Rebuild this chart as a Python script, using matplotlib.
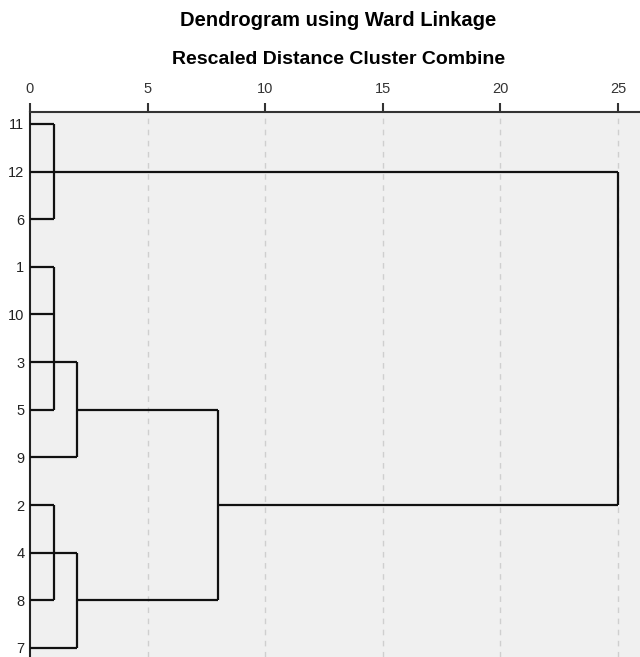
#-------------------------------------------------------------------------
# Imports
import matplotlib
matplotlib.use("Agg")
import matplotlib.pyplot as plt
import numpy             as np

#-------------------------------------------------------------------------
# Data (SPSS-style dendrogram, rescaled distance 0-25)

leaf_labels = ['11', '12', '6', '1', '10', '3', '5', '9', '2', '4', '8', '7']
leaf_reach  = [1, 25, 1, 1, 1, 2, 1, 2, 1, 2, 1, 2]   # how far each leaf line runs

# vertical joins: (distance, first row, last row)
joins_x    = [1, 1, 2, 1, 2, 8, 25]
joins_from = [0, 3, 5, 8, 9, 6, 1]
joins_to   = [2, 6, 7, 10, 11, 10, 8]

# horizontal links between joins: (row, from distance, to distance)
links_row  = [6, 10, 8]
links_from = [2, 2, 8]
links_to   = [8, 8, 25]

xticks = [0, 5, 10, 15, 20, 25]

#-------------------------------------------------------------------------
# Plot parameters
plt.rcParams['font.family'] = ['Liberation Sans', 'DejaVu Sans']
bg_color   = '#f0f0f0'
line_color = '#111111'
lw         = 1.6

fig = plt.figure(figsize=(6.4, 6.57), dpi=100)
ax  = fig.add_axes([30/640, 0.0, 610/640, 1 - 112/657])
ax.set_facecolor(bg_color)

rows = np.arange(len(leaf_labels))

# grid lines
for xt in xticks[1:]:
    ax.axvline(xt, color='#cfcfcf', lw=1.0, ls=(0, (4, 4)), zorder=1)

# leaf lines
ax.hlines(rows, 0, leaf_reach, color=line_color, lw=lw, zorder=3)
ax.vlines(joins_x, joins_from, joins_to, color=line_color, lw=lw, zorder=3)
ax.hlines(links_row, links_from, links_to, color=line_color, lw=lw, zorder=3)

ax.set_xlim(0, 610/23.52)
ax.set_ylim(11.19, -0.25)

ax.xaxis.tick_top()
ax.set_xticks(xticks)
ax.tick_params(axis='x', direction='out', length=6.5, width=1.5, pad=5,
               labelsize=10.5, colors='#333333')
ax.set_yticks(rows)
ax.set_yticklabels(leaf_labels)
ax.tick_params(axis='y', length=0, pad=4, labelsize=10.5, colors='#222222')

for side in ['right', 'bottom']:
    ax.spines[side].set_visible(False)
ax.spines['top'].set_linewidth(1.5)
ax.spines['top'].set_color('#333333')
ax.spines['left'].set_linewidth(1.5)
ax.spines['left'].set_color('#222222')

fig.text(338/640, 1 - 21/657, 'Dendrogram using Ward Linkage',
         ha='center', va='center', fontsize=14.5, fontweight='bold')
fig.text(339/640, 1 - 60/657, 'Rescaled Distance Cluster Combine',
         ha='center', va='center', fontsize=14, fontweight='bold')

#-------------------------------------------------------------------------
# Saving Plot
fig.savefig('out.png', dpi=100)
